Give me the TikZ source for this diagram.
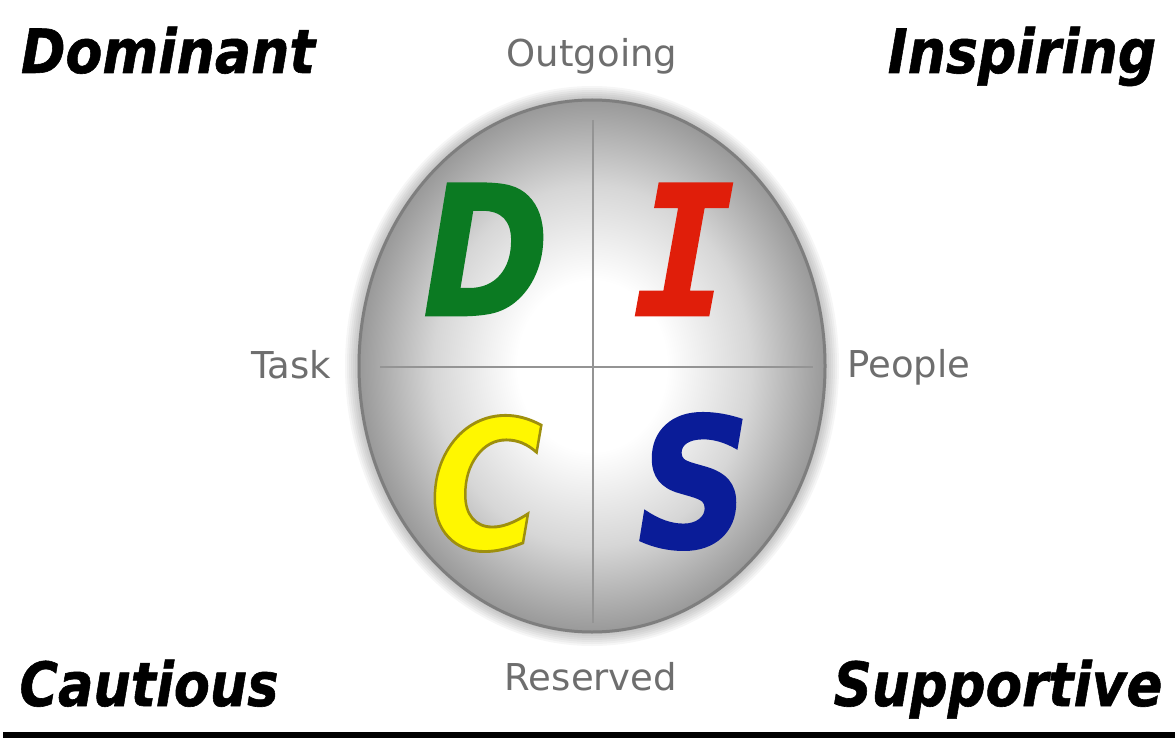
\documentclass[tikz,border=0pt]{standalone}
\usepackage{fontspec}
\setmainfont{DejaVu Sans}
\newfontfamily\heavyfam{DejaVu Sans}[BoldItalicFeatures={FakeBold=1.6}]
\newfontfamily\heavymono{DejaVu Sans Mono}[BoldItalicFeatures={FakeBold=1.6}]
\newfontfamily\cornerfam{DejaVu Sans}[BoldItalicFeatures={FakeBold=1.0}]
\definecolor{lblgray}{HTML}{6E6E6E}
\definecolor{dgreen}{HTML}{0B7A22}
\definecolor{ired}{HTML}{E01E0A}
\definecolor{cyellow}{HTML}{FFF700}
\definecolor{sblue}{HTML}{0A1C98}
\definecolor{rimgray}{HTML}{7E7E7E}
\pgfdeclareradialshading{discshade}{\pgfpoint{0bp}{0bp}}{%
  color(0bp)=(white); color(8bp)=(white); color(17bp)=(black!16);
  color(25bp)=(black!40); color(50bp)=(black!40)}
\tikzset{
  corner/.style={inner sep=0pt, anchor=base, font=\fontsize{61}{61}\cornerfam\bfseries\itshape},
  axislbl/.style={inner sep=0pt, anchor=base, text=lblgray, font=\fontsize{37}{37}\selectfont},
  bigletter/.style={inner sep=0pt, anchor=base, font=\fontsize{180}{180}\heavyfam\bfseries\itshape},
  crossline/.style={draw=black!42, line width=2.6pt},
}
\begin{document}
\begin{tikzpicture}[x=1pt,y=-1pt]
\useasboundingbox (0,0) rectangle (1175,738);
\fill[white] (0,0) rectangle (1175,738);
% soft shadow
\coordinate (c) at (592,366);
\foreach \r in {14,12,10,8,6,4,2}
  \fill[black, opacity=0.035] (c) ellipse [x radius=233+\r, y radius=266+\r];
% disc
\path[shading=discshade] (c) ellipse [x radius=233, y radius=266];
\draw[rimgray, line width=3pt] (c) ellipse [x radius=233, y radius=266];
% cross
\coordinate (vt) at (593,120);
\coordinate (vb) at (593,623);
\coordinate (hl) at (380,367);
\coordinate (hr) at (813,367);
\draw[crossline] (vt) -- (vb);
\draw[crossline] (hl) -- (hr);
% letters
\node[bigletter, text=dgreen] (D) at (486,315) {\scalebox{0.84}[1]{D}};
\node[bigletter, text=ired] (I) at (684,315) {\scalebox{0.92}[1]{\heavymono\bfseries\itshape I}};
\node[bigletter, text=cyellow] (C) at (486,549) {\scalebox{0.86}[1]{\special{pdf:literal direct 0.62 0.56 0.05 RG}C}};
\node[bigletter, text=sblue] (S) at (694,547) {\scalebox{0.86}[1]{S}};
% corner labels
\node[corner] (dom) at (168,73) {\scalebox{0.88}[1]{Dominant}};
\node[corner] (insp) at (1022,73) {\scalebox{0.88}[1]{Inspiring}};
\node[corner] (caut) at (149,706) {\scalebox{0.86}[1]{Cautious}};
\node[corner] (supp) at (998,706) {\scalebox{0.87}[1]{Supportive}};
% axis labels
\node[axislbl] (out) at (592,67) {Outgoing};
\node[axislbl] (task) at (291,378) {Task};
\node[axislbl] (ppl) at (909,377) {People};
\node[axislbl] (res) at (591,690) {Reserved};
% bottom rule
\fill[black] (3,732) rectangle (1175,738);
\end{tikzpicture}
\end{document}
